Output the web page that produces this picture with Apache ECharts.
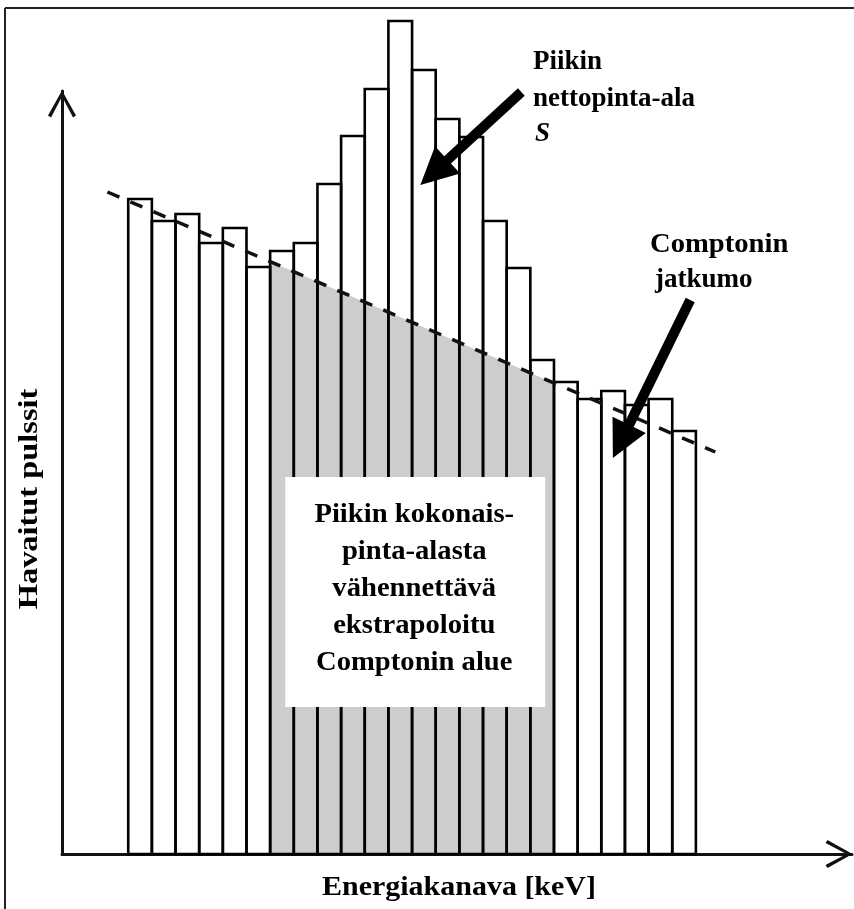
<!DOCTYPE html>
<html>
<head>
<meta charset="utf-8">
<script src="https://cdn.jsdelivr.net/npm/echarts@6/dist/echarts.min.js"></script>
<style>
  html, body { margin: 0; padding: 0; background: #fff; }
  #chart { width: 854px; height: 909px; }
</style>
</head>
<body>
<div id="chart"></div>
<script>
// Pulse counts per energy channel (one bar per channel)
const counts = [655, 633, 640, 611, 626, 587, 603, 611, 670, 718, 765, 833,
                784, 735, 717, 633, 586, 494, 472, 455, 463, 449, 455, 423];
// Extrapolated Compton continuum (straight line through the spectrum)
const comptonLineX = [-0.88, 24.82];
const comptonLineY = [662, 402];
// Channels forming the peak region (bar edges)
const peakRange = [6, 18];

// Texts
const xName = 'Energiakanava [keV]';
const yName = 'Havaitut pulssit';
const peakNote = ['Piikin', 'nettopinta-ala', 'S'];
const comptonNote = ['Comptonin', 'jatkumo'];
const boxNote = ['Piikin kokonais-', 'pinta-alasta', 'vähennettävä', 'ekstrapoloitu', 'Comptonin alue'];

// Annotation anchors in data coordinates: [tail, tip]
const peakArrow = [[16.62, 762], [12.35, 669]];
const comptonArrow = [[23.76, 554], [20.49, 396]];
const boxCorners = [[6.64, 377], [17.63, 147]];

function comptonAt(x) {
  const t = (x - comptonLineX[0]) / (comptonLineX[1] - comptonLineX[0]);
  return comptonLineY[0] + t * (comptonLineY[1] - comptonLineY[0]);
}

const FONT = '"Liberation Serif", "Times New Roman", serif';
const chevron = 'path://M14,0 L28,25 L25,27 L14,6 L3,27 L0,25 Z';

const chart = echarts.init(document.getElementById('chart'), null, { renderer: 'canvas' });

const option = {
  backgroundColor: '#ffffff',
  animation: false,
  grid: { left: 62, right: 2, top: 91, bottom: 55 },
  xAxis: {
    type: 'value', min: -2.8, max: 30.6,
    axisLine: {
      show: true, onZero: false,
      lineStyle: { color: '#111', width: 3 },
      symbol: ['none', chevron], symbolSize: [28, 27], symbolOffset: [0, -13]
    },
    axisTick: { show: false }, axisLabel: { show: false }, splitLine: { show: false }
  },
  yAxis: {
    type: 'value', min: 0, max: 763,
    axisLine: {
      show: true, onZero: false,
      lineStyle: { color: '#111', width: 3 },
      symbol: ['none', chevron], symbolSize: [28, 27], symbolOffset: [0, -13]
    },
    axisTick: { show: false }, axisLabel: { show: false }, splitLine: { show: false }
  },
  series: [
    {
      // shaded Compton part under the peak
      type: 'line',
      data: [[peakRange[0], comptonAt(peakRange[0])], [peakRange[1], comptonAt(peakRange[1])]],
      symbol: 'none',
      lineStyle: { width: 0 },
      areaStyle: { color: '#cdcdcd', opacity: 1 },
      z: 1, silent: true
    },
    {
      // histogram bars
      type: 'custom',
      data: counts.map((v, i) => [i, v]),
      renderItem: function (params, api) {
        const i = api.value(0), v = api.value(1);
        const p0 = api.coord([i, v]);
        const p1 = api.coord([i + 1, 0]);
        return {
          type: 'rect',
          shape: { x: p0[0], y: p0[1], width: p1[0] - p0[0], height: p1[1] - p0[1] },
          style: { fill: 'none', stroke: '#000', lineWidth: 2.6 }
        };
      },
      z: 2, silent: true
    },
    {
      // extrapolated continuum
      type: 'line',
      data: [[comptonLineX[0], comptonLineY[0]], [comptonLineX[1], comptonLineY[1]]],
      symbol: 'none',
      lineStyle: { color: '#111', width: 3.5, type: [13, 12] },
      z: 3, silent: true
    }
  ]
};
chart.setOption(option);

function arrowPoints(tail, tip, shaft, headLen, headW) {
  const dx = tip[0] - tail[0], dy = tip[1] - tail[1];
  const len = Math.hypot(dx, dy);
  const ux = dx / len, uy = dy / len;
  const nx = -uy, ny = ux;
  const bx = tip[0] - ux * headLen, by = tip[1] - uy * headLen;
  return [
    [tail[0] + nx * shaft / 2, tail[1] + ny * shaft / 2],
    [bx + nx * shaft / 2, by + ny * shaft / 2],
    [bx + nx * headW / 2, by + ny * headW / 2],
    [tip[0], tip[1]],
    [bx - nx * headW / 2, by - ny * headW / 2],
    [bx - nx * shaft / 2, by - ny * shaft / 2],
    [tail[0] - nx * shaft / 2, tail[1] - ny * shaft / 2]
  ];
}

const px = p => chart.convertToPixel({ gridIndex: 0 }, p);
const b0 = px(boxCorners[0]), b1 = px(boxCorners[1]);
const boxCx = (b0[0] + b1[0]) / 2, boxCy = (b0[1] + b1[1]) / 2;

const textStyle = (extra) => Object.assign({
  fontFamily: FONT, fontWeight: 'bold', fontSize: 27, fill: '#000'
}, extra);

chart.setOption({
  graphic: [
    // outer frame
    { type: 'line', shape: { x1: 5, y1: 8, x2: 854, y2: 8 }, style: { stroke: '#222', lineWidth: 2 }, z: 50 },
    { type: 'line', shape: { x1: 5, y1: 8, x2: 5, y2: 909 }, style: { stroke: '#222', lineWidth: 2 }, z: 50 },
    // white note box over the shaded region
    {
      type: 'rect', z: 30,
      shape: { x: b0[0], y: b0[1], width: b1[0] - b0[0], height: b1[1] - b0[1] },
      style: { fill: '#fff' }
    },
    {
      type: 'text', z: 31, x: boxCx - 1, y: boxCy - 3, scaleX: 1.06,
      style: textStyle({
        text: boxNote.join('\n'), align: 'center', verticalAlign: 'middle', lineHeight: 37
      })
    },
    // arrows
    {
      type: 'polygon', z: 40,
      shape: { points: arrowPoints(px(peakArrow[0]), px(peakArrow[1]), 10, 37, 37) },
      style: { fill: '#000' }
    },
    {
      type: 'polygon', z: 40,
      shape: { points: arrowPoints(px(comptonArrow[0]), px(comptonArrow[1]), 10, 37, 37) },
      style: { fill: '#000' }
    },
    // peak note
    { type: 'text', z: 41, x: 533, y: 62, style: textStyle({ text: peakNote[0], verticalAlign: 'middle' }) },
    { type: 'text', z: 41, x: 533, y: 99, style: textStyle({ text: peakNote[1], verticalAlign: 'middle' }) },
    { type: 'text', z: 41, x: 535, y: 134, style: textStyle({ text: peakNote[2], fontStyle: 'italic', verticalAlign: 'middle' }) },
    // continuum note
    { type: 'text', z: 41, x: 650, y: 245, scaleX: 1.06, style: textStyle({ text: comptonNote[0], verticalAlign: 'middle' }) },
    { type: 'text', z: 41, x: 655, y: 280, style: textStyle({ text: comptonNote[1], verticalAlign: 'middle' }) },
    // axis titles
    {
      type: 'text', z: 41, x: 30, y: 499, rotation: Math.PI / 2, scaleX: 1.2,
      style: textStyle({ text: yName, align: 'center', verticalAlign: 'middle' })
    },
    {
      type: 'text', z: 41, x: 459, y: 888, scaleX: 1.11,
      style: textStyle({ text: xName, align: 'center', verticalAlign: 'middle' })
    }
  ]
});
</script>
</body>
</html>
